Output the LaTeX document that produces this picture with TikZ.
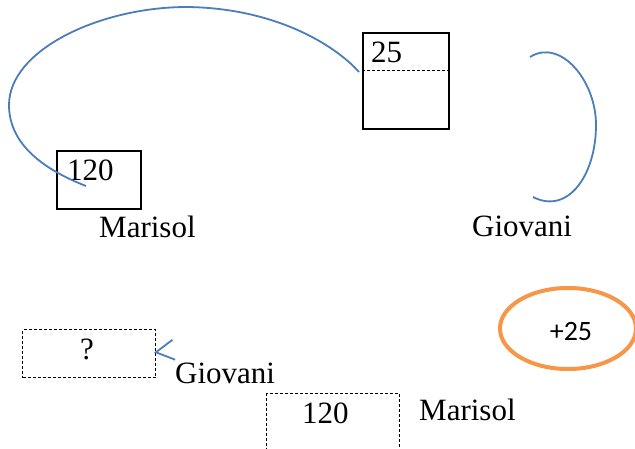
\documentclass[tikz,border=0pt]{standalone}
\usepackage{fontspec}
\setmainfont{Liberation Serif}
\newfontfamily\calibrifont{Carlito}
\usetikzlibrary{shapes.geometric,arrows.meta,calc}
\definecolor{linkblue}{HTML}{4A7EBB}
\definecolor{ringorange}{HTML}{F79646}
\begin{document}
\begin{tikzpicture}[x=1pt,y=-1pt,
  solidbox/.style={draw=black, line width=1.8pt, inner sep=0pt, anchor=north west},
  dashbox/.style={draw=black, line width=1.1pt, dash pattern=on 3pt off 2pt, inner sep=0pt, anchor=north west},
  lbl/.style={inner sep=0pt, anchor=base west, font=\fontsize{31}{37}\selectfont},
  link/.style={draw=linkblue, line width=1.8pt},
  ring/.style={draw=ringorange, line width=4pt, ellipse, inner sep=0pt},
  ringtext/.style={inner sep=0pt, font=\calibrifont\fontsize{28}{33}\selectfont}]
  \clip (0,0) rectangle (635,448);

  % upper part: the two amounts and their owners
  \node[solidbox, minimum width=84pt, minimum height=58pt] (b120) at (56,150) {};
  \node[lbl] (t120) at (67,180) {120};
  \node[solidbox, minimum width=86pt, minimum height=96pt] (b25) at (362,32) {};
  \path (b25.north west) ++(0,38) coordinate (sl)
        (b25.north east) ++(0,38) coordinate (sr);
  \draw[line width=1pt, dash pattern=on 3pt off 2pt] (sl) -- (sr);
  \node[lbl] (t25) at (371,62) {25};
  \node[lbl] (mar1) at (99,237) {Marisol};
  \node[lbl] (gio1) at (472,236) {Giovani};

  % transfer loop from the 25 box to the 120 box
  \coordinate (arcA) at ($(sl)+(-3,2)$);
  \coordinate (arcB) at ($(b120.north west)+(30,36)$);
  \draw[link] (arcA) .. controls (335,45) and (275,8) .. (187,7)
    .. controls (100,7) and (9,50) .. (9,105)
    .. controls (9,145) and (45,170) .. (arcB);

  % bracket next to Giovani
  \draw[link] (530,57) .. controls (560,38) and (596,80) .. (596,125)
    .. controls (596,175) and (568,215) .. (533,197);

  % lower part
  \node[dashbox, minimum width=133pt, minimum height=48pt] (qbox) at (22,329) {};
  \node[inner sep=0pt, anchor=base, font=\fontsize{31}{37}\selectfont] (q) at (87,359) {?};
  \node[lbl] (gio2) at (175,383) {Giovani};
  \coordinate (arrowfrom) at (158,352);
  \draw[link, -{Straight Barb[length=18pt,width=20pt,line width=1.8pt]}]
    (arrowfrom) -- ($(qbox.east)+(-2,-1)$);

  \node[dashbox, minimum width=133pt, minimum height=70pt] (b120b) at (266,393) {};
  \node[lbl] (t120b) at (302,423) {120};
  \node[lbl] (mar2) at (419,420) {Marisol};

  \node[ring, minimum width=136pt, minimum height=81pt] (plus) at (568,328.5) {};
  \node[ringtext] (plustext) at ($(plus.center)+(3,3)$) {+25};
\end{tikzpicture}
\end{document}
